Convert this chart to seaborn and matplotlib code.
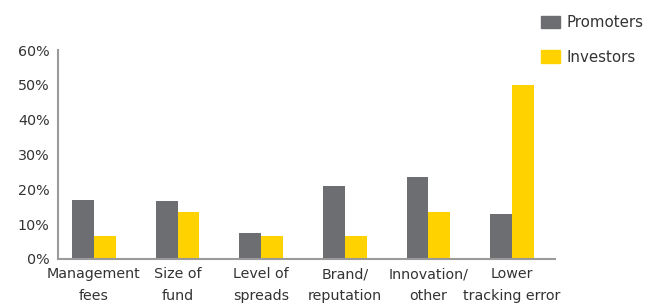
import matplotlib
matplotlib.use("Agg")
import matplotlib.pyplot as plt
import seaborn as sns
import pandas as pd
from matplotlib.ticker import PercentFormatter
from matplotlib.patches import Patch

categories = ["Management\nfees", "Size of\nfund", "Level of\nspreads",
              "Brand/\nreputation", "Innovation/\nother", "Lower\ntracking error"]
promoters = [0.17, 0.165, 0.075, 0.21, 0.235, 0.13]
investors = [0.065, 0.135, 0.065, 0.065, 0.135, 0.50]
series = ["Promoters", "Investors"]
colors = ["#6d6e71", "#ffd200"]

df = pd.DataFrame({
    "category": categories * 2,
    "value": promoters + investors,
    "series": [series[0]] * len(categories) + [series[1]] * len(categories),
})

sns.set_style("white")
plt.rcParams["font.family"] = ["DejaVu Sans"]

fig = plt.figure(figsize=(6.55, 3.05), dpi=100)
ax = fig.add_axes([0.0885, 0.151, 0.7585, 0.685])
sns.barplot(data=df, x="category", y="value", hue="series", palette=colors,
            width=0.52, ax=ax, legend=False, saturation=1, linewidth=0,
            edgecolor="none")

ax.set_ylim(0, 0.6)
ax.set_xlim(-0.43, 5.51)
ax.yaxis.set_major_formatter(PercentFormatter(1.0, decimals=0))
ax.set_yticks([0, 0.1, 0.2, 0.3, 0.4, 0.5, 0.6])
ax.set_xlabel("")
ax.set_ylabel("")
for s in ["top", "right"]:
    ax.spines[s].set_visible(False)
for s in ["left", "bottom"]:
    ax.spines[s].set_color("#9a9a9a")
    ax.spines[s].set_linewidth(1.5)
ax.tick_params(axis="both", length=0, labelsize=10.3, colors="#333333")
ax.tick_params(axis="y", pad=6)
ax.tick_params(axis="x", pad=6)
for lbl in ax.get_xticklabels():
    lbl.set_linespacing(1.7)

handles = [Patch(color=c, label=l) for c, l in zip(colors, series)]
fig.legend(handles=handles, loc="upper left", bbox_to_anchor=(0.806, 0.995),
           frameon=False, fontsize=10.8, handlelength=1.25, handleheight=0.9,
           labelspacing=1.3, handletextpad=0.4, labelcolor="#333333")

fig.savefig("out.png", dpi=100)
